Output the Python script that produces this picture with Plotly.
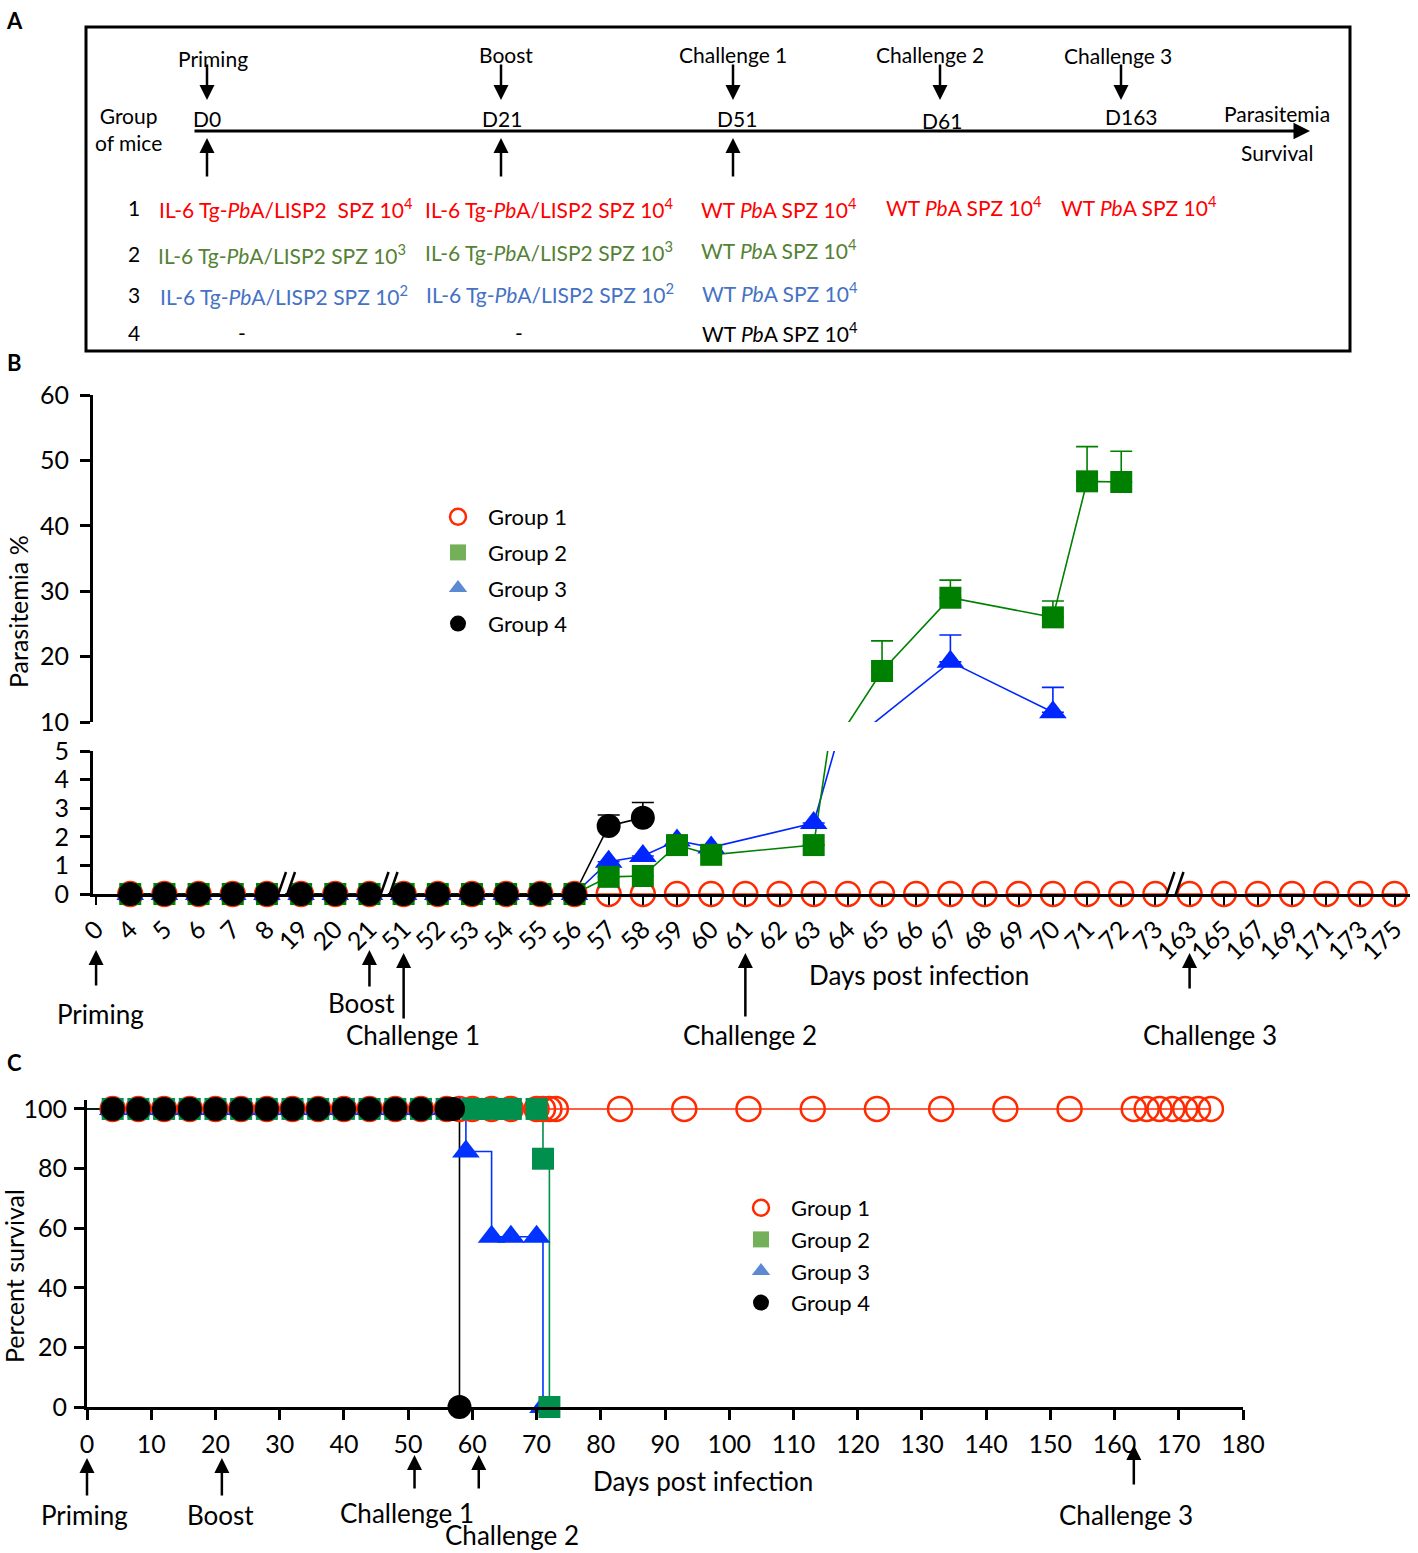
import plotly.graph_objects as go

W, H = 1418, 1553
FONT = "Lato, Carlito, sans-serif"


def px(x):
    return x / W


def py(y):
    return 1 - y / H


# ---------------- panel B: parasitemia (categorical days, broken y axis) ----------------
B_DAYS = ["0", "4", "5", "6", "7", "8", "19", "20", "21", "51", "52", "53", "54", "55", "56",
          "57", "58", "59", "60", "61", "62", "63", "64", "65", "66", "67", "68", "69", "70",
          "71", "72", "73", "163", "165", "167", "169", "171", "173", "175"]

G1_B_DAYS = ["4", "5", "6", "7", "8", "19", "20", "21", "51", "52", "53", "54", "55", "56",
             "57", "58", "59", "60", "61", "62", "63", "64", "65", "66", "67", "68", "69", "70",
             "71", "72", "73", "163", "165", "167", "169", "171", "173", "175"]
G1_B_PARA = [0, 0, 0, 0, 0, 0, 0, 0, 0, 0, 0, 0, 0, 0, 0, 0, 0, 0, 0, 0, 0, 0, 0, 0, 0, 0,
             0, 0, 0, 0, 0, 0, 0, 0, 0, 0, 0, 0]
G1_B_SEM = [0, 0, 0, 0, 0, 0, 0, 0, 0, 0, 0, 0, 0, 0, 0, 0, 0, 0, 0, 0, 0, 0, 0, 0, 0, 0,
            0, 0, 0, 0, 0, 0, 0, 0, 0, 0, 0, 0]

G2_B_DAYS = ["4", "5", "6", "7", "8", "19", "20", "21", "51", "52", "53", "54", "55", "56",
             "57", "58", "59", "60", "63", "65", "67", "70", "71", "72"]
G2_B_PARA = [0, 0, 0, 0, 0, 0, 0, 0, 0, 0, 0, 0, 0, 0,
             0.6, 0.63, 1.71, 1.37, 1.71, 17.8, 29.0, 26.0, 46.8, 46.7]
G2_B_SEM = [0, 0, 0, 0, 0, 0, 0, 0, 0, 0, 0, 0, 0, 0,
            0, 0, 0, 0, 0, 4.6, 2.7, 2.5, 5.3, 4.7]

G3_B_DAYS = ["4", "5", "6", "7", "8", "19", "20", "21", "51", "52", "53", "54", "55", "56",
             "57", "58", "59", "60", "63", "67", "70"]
G3_B_PARA = [0, 0, 0, 0, 0, 0, 0, 0, 0, 0, 0, 0, 0, 0,
             1.13, 1.33, 1.87, 1.63, 2.48, 19.2, 11.5]
G3_B_SEM = [0, 0, 0, 0, 0, 0, 0, 0, 0, 0, 0, 0, 0, 0,
            0, 0, 0, 0, 0, 4.1, 3.8]

G4_B_DAYS = ["4", "5", "6", "7", "8", "19", "20", "21", "51", "52", "53", "54", "55", "56",
             "57", "58"]
G4_B_PARA = [0, 0, 0, 0, 0, 0, 0, 0, 0, 0, 0, 0, 0, 0, 2.38, 2.67]
G4_B_SEM = [0, 0, 0, 0, 0, 0, 0, 0, 0, 0, 0, 0, 0, 0, 0.38, 0.53]

# ---------------- panel C: survival ----------------
C_G1_DAYS = [0, 4, 8, 12, 16, 20, 24, 28, 32, 36, 40, 44, 48, 52, 56, 58, 60, 63, 66, 70, 71,
             72, 73, 83, 93, 103, 113, 123, 133, 143, 153, 163, 165, 167, 169, 171, 173, 175]
C_G1_SURV = [100, 100, 100, 100, 100, 100, 100, 100, 100, 100, 100, 100, 100, 100, 100, 100,
             100, 100, 100, 100, 100, 100, 100, 100, 100, 100, 100, 100, 100, 100, 100, 100,
             100, 100, 100, 100, 100, 100]

C_G2_DAYS = [0, 4, 8, 12, 16, 20, 24, 28, 32, 36, 40, 44, 48, 52, 56, 60, 63, 66, 70, 71, 72]
C_G2_SURV = [100, 100, 100, 100, 100, 100, 100, 100, 100, 100, 100, 100, 100, 100, 100, 100,
             100, 100, 100, 83.3, 0]

C_G3_DAYS = [0, 4, 8, 12, 16, 20, 24, 28, 32, 36, 40, 44, 48, 52, 56, 58, 59, 63, 66, 70, 71]
C_G3_SURV = [100, 100, 100, 100, 100, 100, 100, 100, 100, 100, 100, 100, 100, 100, 100, 100,
             85.7, 57.1, 57.1, 57.1, 0]

C_G4_DAYS = [0, 4, 8, 12, 16, 20, 24, 28, 32, 36, 40, 44, 48, 52, 56, 57, 58]
C_G4_SURV = [100, 100, 100, 100, 100, 100, 100, 100, 100, 100, 100, 100, 100, 100, 100, 100, 0]

GROUPS = ["Group 1", "Group 2", "Group 3", "Group 4"]

# styles (plot colours and the paler legend swatches)
B_COLORS = {"Group 1": "#ff2a00", "Group 2": "#008000", "Group 3": "#0026ff", "Group 4": "#000000"}
C_COLORS = {"Group 1": "#ff2a00", "Group 2": "#008f4c", "Group 3": "#0033ff", "Group 4": "#000000"}
LEG_COLORS = {"Group 1": "#ff2a00", "Group 2": "#74b05a", "Group 3": "#5b8ad2", "Group 4": "#000000"}
SYMBOLS = {"Group 1": "circle-open", "Group 2": "square", "Group 3": "triangle-up", "Group 4": "circle"}
SIZES = {"Group 1": 24, "Group 2": 22, "Group 3": 24, "Group 4": 24}

B_DATA = {
    "Group 1": (G1_B_DAYS, G1_B_PARA, G1_B_SEM),
    "Group 2": (G2_B_DAYS, G2_B_PARA, G2_B_SEM),
    "Group 3": (G3_B_DAYS, G3_B_PARA, G3_B_SEM),
    "Group 4": (G4_B_DAYS, G4_B_PARA, G4_B_SEM),
}
C_DATA = {
    "Group 1": (C_G1_DAYS, C_G1_SURV),
    "Group 2": (C_G2_DAYS, C_G2_SURV),
    "Group 3": (C_G3_DAYS, C_G3_SURV),
    "Group 4": (C_G4_DAYS, C_G4_SURV),
}
DRAW_ORDER = ["Group 1", "Group 3", "Group 2", "Group 4"]


def marker(group, colors):
    m = dict(symbol=SYMBOLS[group], size=SIZES[group], color=colors[group])
    if group == "Group 1":
        m["line"] = dict(width=2.5, color=colors[group])
    return m


fig = go.Figure()

# panel B lines: drawn in both halves of the broken axis, each clipped to its own range
for g in DRAW_ORDER:
    days, vals, _ = B_DATA[g]
    if g == "Group 1":
        continue
    for ax in ("y", "y2"):
        fig.add_trace(go.Scatter(x=days, y=vals, mode="lines", xaxis="x", yaxis=ax,
                                 line=dict(color=B_COLORS[g], width=1.6),
                                 showlegend=False, hoverinfo="skip"))

# panel B markers: low values on the 0-5 axis, high values on the 10-60 axis
for g in DRAW_ORDER:
    days, vals, sem = B_DATA[g]
    for ax, keep in (("y", lambda v: v <= 5), ("y2", lambda v: v >= 10)):
        idx = [i for i, v in enumerate(vals) if keep(v)]
        if not idx:
            continue
        fig.add_trace(go.Scatter(
            x=[days[i] for i in idx], y=[vals[i] for i in idx], mode="markers",
            xaxis="x", yaxis=ax, marker=marker(g, B_COLORS), cliponaxis=False,
            error_y=dict(type="data", symmetric=False, array=[sem[i] for i in idx],
                         arrayminus=[0] * len(idx), color=B_COLORS[g], thickness=1.6, width=11),
            showlegend=False, name=g))

# panel C: Kaplan-Meier steps
for g in DRAW_ORDER:
    days, surv = C_DATA[g]
    fig.add_trace(go.Scatter(x=days, y=surv, mode="lines", xaxis="x2", yaxis="y3",
                             line=dict(color=C_COLORS[g], width=1.6, shape="hv"),
                             cliponaxis=False, showlegend=False, hoverinfo="skip"))
for g in DRAW_ORDER:
    days, surv = C_DATA[g]
    fig.add_trace(go.Scatter(x=days[1:], y=surv[1:], mode="markers", xaxis="x2", yaxis="y3",
                             marker=marker(g, C_COLORS), cliponaxis=False,
                             showlegend=False, name=g))

# legends (one per panel)
for leg in ("legend", "legend2"):
    for g in GROUPS:
        fig.add_trace(go.Scatter(x=[None], y=[None], mode="markers", name=g, legend=leg,
                                 legendgroup=leg + g, marker=marker(g, LEG_COLORS),
                                 xaxis="x", yaxis="y"))

# ---------------- annotations ----------------
ann = []


def txt(x, y, s, size=21, color="black", xanchor="center", angle=0, bold=False):
    if bold:
        s = "<b>" + s + "</b>"
    ann.append(dict(x=px(x), y=py(y), xref="paper", yref="paper", text=s, showarrow=False,
                    xanchor=xanchor, yanchor="middle", textangle=angle,
                    font=dict(family=FONT, size=size, color=color)))


def arrow(x, y_head, y_tail, xref="paper", width=2.5):
    ann.append(dict(x=px(x) if xref == "paper" else x, y=py(y_head), xref=xref, yref="paper",
                    ax=0, ay=y_tail - y_head, axref="pixel", ayref="pixel", text="",
                    showarrow=True, arrowhead=2, arrowsize=1.2, arrowwidth=width,
                    arrowcolor="black"))


# panel letters
txt(15, 20, "A", size=22, bold=True)
txt(15, 362, "B", size=22, bold=True)
txt(15, 1062, "C", size=22, bold=True)

# panel A: schedule
RED, GREEN, BLUE = "#ff0000", "#548235", "#4472c4"
IL6 = "IL-6 Tg-<i>Pb</i>A/LISP2 SPZ 10<sup>%s</sup>"
WT = "WT <i>Pb</i>A SPZ 10<sup>4</sup>"

for lab, x, y in [("Priming", 213, 59), ("Boost", 506, 55), ("Challenge 1", 733, 55),
                  ("Challenge 2", 930, 55), ("Challenge 3", 1118, 56)]:
    txt(x, y, lab)
for lab, x, y in [("D0", 207, 119), ("D21", 502, 119), ("D51", 737, 119), ("D61", 942, 120),
                  ("D163", 1131, 117)]:
    txt(x, y, lab)
for x in (207, 501, 733, 940, 1121):
    arrow(x, 100, 63)
for x in (207, 501, 733):
    arrow(x, 138, 178)
ann.append(dict(x=px(1310), y=py(131), xref="paper", yref="paper", ax=-1117, ay=0,
                axref="pixel", ayref="pixel", text="", showarrow=True, arrowhead=2,
                arrowsize=1.1, arrowwidth=3, arrowcolor="black"))
txt(128, 129, "Group<br>of mice")
txt(1277, 114, "Parasitemia")
txt(1277, 152, "Survival")
for n, y in [("1", 208), ("2", 254), ("3", 295), ("4", 332)]:
    txt(134, y, n)
txt(157, 208, IL6.replace(" SPZ", "  SPZ") % "4", color=RED, xanchor="left")
txt(423, 208, IL6 % "4", color=RED, xanchor="left")
txt(699, 208, WT, color=RED, xanchor="left")
txt(884, 206, WT, color=RED, xanchor="left")
txt(1059, 206, WT, color=RED, xanchor="left")
txt(156, 254, IL6 % "3", color=GREEN, xanchor="left")
txt(423, 251, IL6 % "3", color=GREEN, xanchor="left")
txt(699, 249, WT, color=GREEN, xanchor="left")
txt(158, 295, IL6 % "2", color=BLUE, xanchor="left")
txt(424, 293, IL6 % "2", color=BLUE, xanchor="left")
txt(700, 292, WT, color=BLUE, xanchor="left")
txt(242, 332, "-")
txt(519, 332, "-")
txt(700, 332, WT, xanchor="left")

# panel B labels and arrows (category axis: position by index)
txt(18, 612, "Parasitemia %", size=25, angle=-90)
txt(919, 975, "Days post infection", size=26)
for day, head, tail in [("0", 950, 987), ("21", 950, 988), ("51", 953, 1020),
                        ("61", 953, 1018), ("163", 953, 990)]:
    arrow(B_DAYS.index(day), head, tail, xref="x")
for lab, x, y in [("Priming", 100, 1014), ("Boost", 361, 1003), ("Challenge 1", 413, 1035),
                  ("Challenge 2", 750, 1035), ("Challenge 3", 1210, 1035)]:
    txt(x, y, lab, size=26)

# panel C labels and arrows
txt(14, 1276, "Percent survival", size=25, angle=-90)
txt(703, 1481, "Days post infection", size=26)
for day, head, tail in [(0, 1458, 1497), (21, 1458, 1497), (51, 1455, 1490),
                        (61, 1455, 1490), (163, 1445, 1486)]:
    arrow(day, head, tail, xref="x2")
for lab, x, y in [("Priming", 84, 1515), ("Boost", 220, 1515), ("Challenge 1", 407, 1513),
                  ("Challenge 2", 512, 1535), ("Challenge 3", 1126, 1515)]:
    txt(x, y, lab, size=26)

# ---------------- shapes ----------------
shapes = [dict(type="rect", xref="paper", yref="paper", x0=px(86), x1=px(1350), y0=py(27),
               y1=py(351), line=dict(color="black", width=3))]
# axis-break marks on the day axis of panel B
for c in (5.5, 8.5, 31.5):
    shapes.append(dict(type="line", xref="x", yref="y", xsizemode="pixel", ysizemode="pixel",
                       xanchor=c, yanchor=0, x0=-9, x1=5, y0=-18, y1=22,
                       line=dict(color="white", width=7)))
    for off in (-5, 4):
        shapes.append(dict(type="line", xref="x", yref="y", xsizemode="pixel",
                           ysizemode="pixel", xanchor=c, yanchor=0, x0=off - 7, x1=off + 7,
                           y0=-18, y1=22, line=dict(color="black", width=2.5)))

axis_common = dict(showline=True, linecolor="black", linewidth=3, ticks="outside",
                   tickcolor="black", showgrid=False, zeroline=False, automargin=False,
                   tickfont=dict(family=FONT, size=25, color="black"))

fig.update_layout(
    width=W, height=H, margin=dict(l=0, r=0, t=0, b=0, autoexpand=False),
    paper_bgcolor="white", plot_bgcolor="white",
    annotations=ann, shapes=shapes,
    xaxis=dict(domain=[px(93), px(1410)], type="category", categoryorder="array",
               categoryarray=B_DAYS, range=[-0.09, 38.45], anchor="y", tickangle=-45,
               ticklen=8, tickwidth=2, **axis_common),
    yaxis=dict(domain=[py(894), py(751)], range=[0, 5], dtick=1, anchor="x",
               ticklen=10, tickwidth=3, ticklabelstandoff=6, **axis_common),
    yaxis2=dict(domain=[py(722), py(395)], range=[10, 60], dtick=10, anchor="x",
                ticklen=10, tickwidth=3, ticklabelstandoff=6, **axis_common),
    xaxis2=dict(domain=[px(87), px(1243)], range=[0, 180], dtick=10, anchor="y3",
                ticklen=10, tickwidth=3, ticklabelstandoff=3, **axis_common),
    yaxis3=dict(domain=[py(1407), py(1100)], range=[0, 103], tickvals=[0, 20, 40, 60, 80, 100],
                anchor="x2", ticklen=10, tickwidth=3, ticklabelstandoff=2, **axis_common),
    showlegend=True,
    legend=dict(x=px(428), y=py(496), xanchor="left", yanchor="top", traceorder="grouped",
                tracegroupgap=4, itemwidth=50, bgcolor="rgba(0,0,0,0)",
                font=dict(family=FONT, size=22, color="black")),
    legend2=dict(x=px(731), y=py(1187), xanchor="left", yanchor="top", traceorder="grouped",
                 tracegroupgap=0, itemwidth=50, bgcolor="rgba(0,0,0,0)",
                 font=dict(family=FONT, size=22, color="black")),
)

# the page's default body margin would shift the figure by 8px
fig.write_html("out.html", config={"displayModeBar": False},
               post_script="document.body.style.margin='0';")
